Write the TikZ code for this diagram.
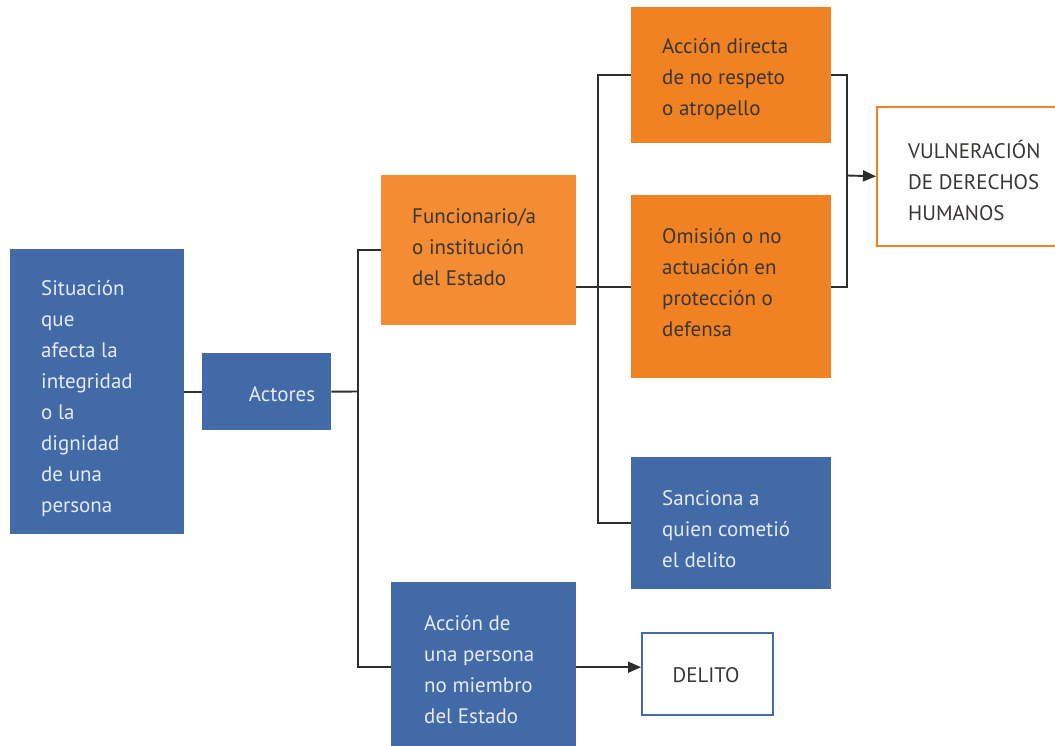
\documentclass[tikz,border=0pt]{standalone}
\usepackage{fontspec}
\setmainfont{PT Sans}
\usetikzlibrary{arrows.meta}
\definecolor{cblue}{HTML}{416AA7}
\definecolor{corange}{HTML}{F08223}
\definecolor{corangel}{HTML}{F38C33}
\definecolor{ctxtw}{HTML}{E6EAF3}
\definecolor{ctxtd}{HTML}{3A3633}
\definecolor{cline}{HTML}{2E2E2E}
\tikzset{
  box/.style={rectangle, anchor=north west, inner sep=0pt},
  bluebox/.style={box, fill=cblue},
  orbox/.style={box, fill=corange},
  orlbox/.style={box, fill=corangel},
  txt/.style={inner sep=0pt, anchor=west, align=left, font=\fontsize{21}{31}\selectfont},
  txtw/.style={txt, text=ctxtw},
  txtd/.style={txt, text=ctxtd},
  conn/.style={draw=cline, line width=1.9pt},
  arr/.style={conn, -{Triangle[length=13pt,width=11pt]}},
}
\begin{document}
\begin{tikzpicture}[x=1pt,y=-1pt]
\useasboundingbox (0,0) rectangle (1055,746);
% boxes
\node[bluebox, minimum width=174pt, minimum height=285pt] (sit) at (10,249) {};
\node[bluebox, minimum width=129pt, minimum height=77pt] (act) at (202,353) {};
\node[orlbox, minimum width=195pt, minimum height=150pt] (fun) at (381,175) {};
\node[orbox, minimum width=200pt, minimum height=136pt] (acc) at (631,7) {};
\node[orbox, minimum width=200pt, minimum height=183pt] (omi) at (631,195) {};
\node[box, draw=corange, line width=1.6pt, fill=white, minimum width=190pt, minimum height=139pt] (vul) at (876,106) {};
\node[bluebox, minimum width=200pt, minimum height=132pt] (san) at (631,457) {};
\node[bluebox, minimum width=185pt, minimum height=170pt] (per) at (391,582) {};
\node[box, draw=cblue, line width=1.6pt, fill=white, minimum width=131pt, minimum height=82pt] (del) at (641,632) {};
% texts
\node[txtw] (sitt) at (41,399) {Situación\\que\\afecta la\\integridad\\o la\\dignidad\\de una\\persona};
\node[txtw, anchor=center] (actt) at (282,394) {Actores};
\node[txtd] (funt) at (412,247.5) {Funcionario/a\\o institución\\del Estado};
\node[txtd] (acct) at (662,79) {Acción directa\\de no respeto\\o atropello};
\node[txtd] (omit) at (662,283) {Omisión o no\\actuación en\\protección o\\defensa};
\node[txtd] (vult) at (908,180) {VULNERACIÓN\\DE DERECHOS\\HUMANOS};
\node[txtw] (sant) at (662,529) {Sanciona a\\quien cometió\\el delito};
\node[txtw] (pert) at (424,670) {Acción de\\una persona\\no miembro\\del Estado};
\node[txtd, anchor=center] (delt) at (706,675) {DELITO};
% connectors
\coordinate (trk) at (358,391.5);
\coordinate (bus) at (598,286.5);
\coordinate (br) at (847,175.5);
\draw[conn] (sit.east) -- (act.west);
\draw[conn] (act.east) -- (trk);
\draw[conn] (fun.west) -| (trk) |- (per.west);
\draw[conn] (fun.east |- omi.west) -- (omi.west);
\draw[conn] (acc.west) -| (bus) |- (san.west);
\draw[conn] (acc.east) -| (br) |- (omi.east);
\draw[arr] (br) -- (vul.west);
\draw[arr] (per.east) -- (del.west |- per.east);
\end{tikzpicture}
\end{document}
